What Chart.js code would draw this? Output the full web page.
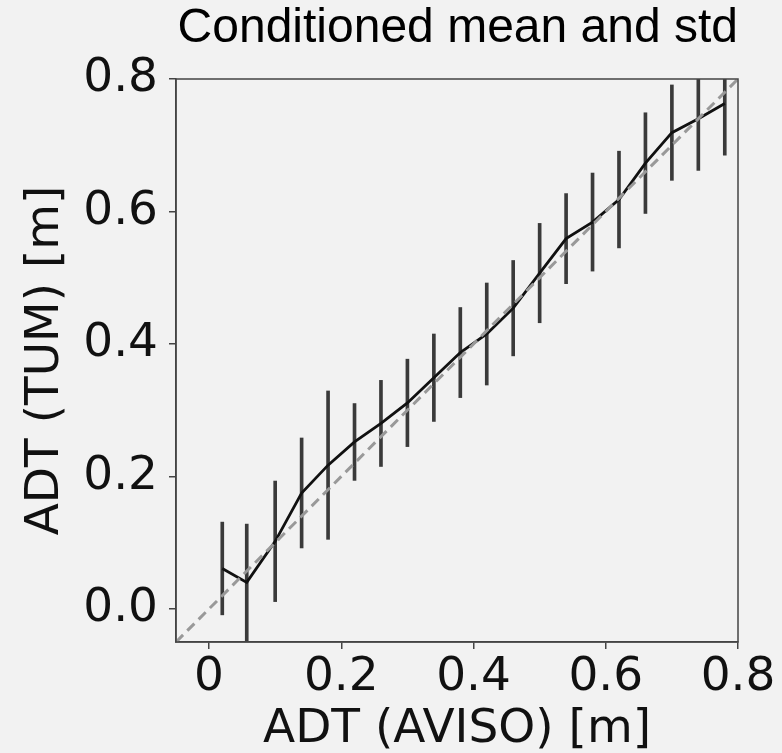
<!DOCTYPE html>
<html lang="en">
<head>
  <meta charset="UTF-8">
  <title>Conditioned mean and std</title>
  <script src="https://cdn.jsdelivr.net/npm/chart.js"></script>
  <style>
    html, body {
      margin: 0;
      padding: 0;
      background: #f2f2f2;
    }
    canvas {
      display: block;
    }
  </style>
</head>
<body>
  <canvas id="myChart" width="782" height="753"></canvas>

  <script>
    // bin centres of ADT (AVISO) [m]
    const xValues = [0.02, 0.057, 0.10, 0.14, 0.18, 0.22, 0.26, 0.30, 0.34, 0.38,
                     0.42, 0.46, 0.50, 0.54, 0.58, 0.62, 0.66, 0.70, 0.74, 0.78];
    // conditioned mean of ADT (TUM) [m]
    const meanValues = [0.061, 0.040, 0.102, 0.175, 0.217, 0.252, 0.280, 0.311, 0.349, 0.387,
                        0.415, 0.454, 0.507, 0.559, 0.584, 0.618, 0.673, 0.719, 0.740, 0.763];
    // conditioned std
    const stdValues = [0.070, 0.088, 0.091, 0.083, 0.112, 0.058, 0.065, 0.066, 0.066, 0.068,
                       0.077, 0.072, 0.075, 0.068, 0.074, 0.073, 0.076, 0.072, 0.078, 0.078];
    // 1:1 reference line
    const identityRange = [-0.05, 0.8];

    const xTickValues = [0, 0.2, 0.4, 0.6, 0.8];
    const xTickLabels = ['0', '0.2', '0.4', '0.6', '0.8'];
    const yTickValues = [0, 0.2, 0.4, 0.6, 0.8];
    const yTickLabels = ['0.0', '0.2', '0.4', '0.6', '0.8'];

    const tickFont = { family: 'DejaVu Sans', size: 47 };
    const axisColor = '#444';

    // draws the top and right spines too
    const frame = {
      id: 'frame',
      afterDraw: (chart) => {
        const { ctx, chartArea } = chart;
        ctx.save();
        ctx.strokeStyle = axisColor;
        ctx.lineWidth = 1.5;
        ctx.strokeRect(chartArea.left, chartArea.top, chartArea.right - chartArea.left, chartArea.bottom - chartArea.top);
        ctx.restore();
      }
    };

    const ctx = document.getElementById('myChart').getContext('2d');
    const myChart = new Chart(ctx, {
      type: 'line',
      data: {
        datasets: [
          {
            label: 'identity',
            data: identityRange.map(v => ({ x: v, y: v })),
            borderColor: '#999',
            borderWidth: 3,
            borderDash: [10, 6],
            pointRadius: 0,
            order: 0
          },
          {
            label: 'mean',
            data: xValues.map((x, i) => ({ x: x, y: meanValues[i] })),
            borderColor: '#111',
            borderWidth: 2.8,
            pointRadius: 0,
            tension: 0,
            order: 1
          },
          {
            type: 'bar',
            label: 'std',
            data: xValues.map((x, i) => ({ x: x, y: [meanValues[i] - stdValues[i], meanValues[i] + stdValues[i]] })),
            backgroundColor: '#3a3a3a',
            barThickness: 3,
            order: 2
          }
        ]
      },
      options: {
        responsive: false,
        animation: false,
        events: [],
        layout: {
          padding: { left: 0, top: 0, right: 44, bottom: 0 }
        },
        plugins: {
          legend: { display: false },
          tooltip: { enabled: false },
          title: {
            display: true,
            align: 'end',
            text: 'Conditioned mean and std',
            color: '#000',
            font: { family: 'Liberation Sans', size: 48, weight: 'normal', lineHeight: 1 },
            padding: { top: 5, bottom: 26 }
          }
        },
        scales: {
          x: {
            type: 'linear',
            min: -0.05,
            max: 0.8,
            offset: false,
            afterFit: (scale) => { scale.height = 111; },
            afterBuildTicks: (scale) => { scale.ticks = xTickValues.map(v => ({ value: v })); },
            ticks: {
              font: tickFont,
              color: '#111',
              padding: 1,
              maxRotation: 0,
              callback: (value, index) => xTickLabels[index]
            },
            grid: {
              offset: false,
              drawOnChartArea: false,
              drawTicks: true,
              tickLength: 7,
              tickColor: axisColor,
              lineWidth: 1.5
            },
            border: { display: true, color: axisColor, width: 1.5 },
            title: {
              display: true,
              text: 'ADT (AVISO) [m]',
              color: '#111',
              font: { family: 'DejaVu Sans', size: 47, lineHeight: 1 },
              padding: { top: 0, bottom: 0 }
            }
          },
          y: {
            type: 'linear',
            min: -0.05,
            max: 0.8,
            afterFit: (scale) => { scale.width = 176; },
            afterBuildTicks: (scale) => { scale.ticks = yTickValues.map(v => ({ value: v })); },
            ticks: {
              font: tickFont,
              color: '#111',
              padding: 11,
              callback: (value, index) => yTickLabels[index]
            },
            grid: {
              drawOnChartArea: false,
              drawTicks: true,
              tickLength: 7,
              tickColor: axisColor,
              lineWidth: 1.5
            },
            border: { display: true, color: axisColor, width: 1.5 },
            title: {
              display: true,
              text: 'ADT (TUM) [m]',
              color: '#111',
              font: { family: 'DejaVu Sans', size: 47, lineHeight: 1 },
              padding: { top: 22, bottom: 0 }
            }
          }
        }
      },
      plugins: [frame]
    });
  </script>
</body>
</html>
